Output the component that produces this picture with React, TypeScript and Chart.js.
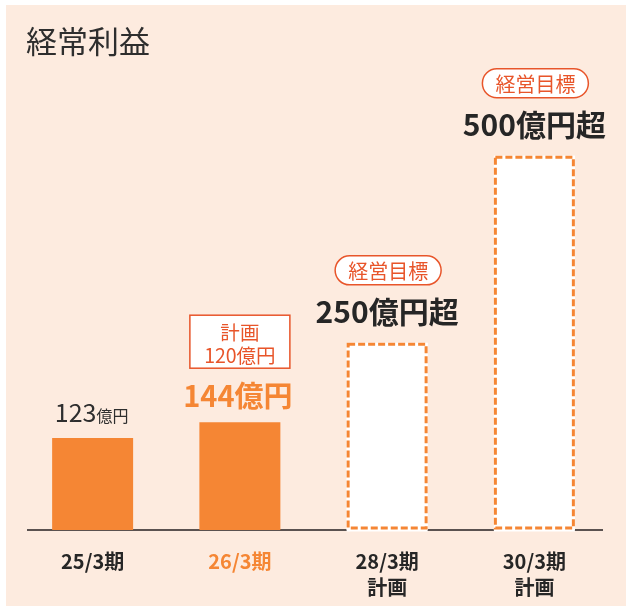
import React, { useEffect, useRef } from 'react';
import { Chart, registerables } from 'chart.js';

Chart.register(...registerables);

// ---- data ----
const categories: string[][] = [['25/3期'], ['26/3期'], ['28/3期', '計画'], ['30/3期', '計画']];
const profits: number[] = [123, 144, 250, 500];
const isPlan: boolean[] = [false, false, true, true];
const valueNumbers: string[] = ['123', '144', '250', '500'];
const valueSuffixes: string[] = ['億円', '億円', '億円超', '億円超'];
const planNote: string[] = ['計画', '120億円'];
const targetBadge = '経営目標';
const chartTitle = '経常利益';
const yMax = 700;

// ---- styles ----
const FONT = "'Noto Sans CJK JP', 'Noto Sans', sans-serif";
const ORANGE = '#F58634';
const RED = '#E8552A';
const DARK = '#262626';
const PEACH = '#FDEBDF';

const annotate = {
  id: 'annotate',
  beforeDatasetsDraw(chart: any) {
    const { ctx, chartArea } = chart;
    ctx.save();
    ctx.strokeStyle = '#231F20';
    ctx.lineWidth = 1.5;
    ctx.beginPath();
    ctx.moveTo(chartArea.left + 8, chartArea.bottom);
    ctx.lineTo(chartArea.right - 5, chartArea.bottom);
    ctx.stroke();

    ctx.fillStyle = '#2E2E2E';
    ctx.font = `31px ${FONT}`;
    ctx.textBaseline = 'middle';
    ctx.textAlign = 'left';
    ctx.fillText(chartTitle, 26, 41);
    ctx.restore();
  },
  afterDatasetsDraw(chart: any) {
    const { ctx } = chart;
    const meta = chart.getDatasetMeta(0);
    meta.data.forEach((bar: any, i: number) => {
      const { x, y, base, width } = bar.getProps(['x', 'y', 'base', 'width'], true);
      const left = x - width / 2;
      ctx.save();
      if (isPlan[i]) {
        ctx.fillStyle = '#FFFFFF';
        ctx.fillRect(left, y, width, base - y + 1.5);
        ctx.strokeStyle = ORANGE;
        ctx.lineWidth = 3;
        ctx.setLineDash([7, 3]);
        ctx.strokeRect(left + 1.5, y + 1.5, width - 3, base - 2 - (y + 1.5));
        ctx.setLineDash([]);

        // badge pill
        const pw = 106, ph = 29;
        const px = x + 1 - pw / 2, py = y - 87;
        ctx.beginPath();
        ctx.roundRect(px, py, pw, ph, ph / 2);
        ctx.fillStyle = '#FFFFFF';
        ctx.fill();
        ctx.lineWidth = 1.5;
        ctx.strokeStyle = RED;
        ctx.stroke();
        ctx.fillStyle = RED;
        ctx.font = `20px ${FONT}`;
        ctx.textAlign = 'center';
        ctx.textBaseline = 'middle';
        ctx.fillText(targetBadge, x + 1, py + ph / 2 + 1);

        // big value
        ctx.fillStyle = DARK;
        ctx.font = `bold 30px ${FONT}`;
        ctx.textBaseline = 'alphabetic';
        ctx.fillText(valueNumbers[i] + valueSuffixes[i], x, y - 20);
      } else if (i === 0) {
        ctx.fillStyle = '#2E2E2E';
        ctx.textBaseline = 'alphabetic';
        ctx.textAlign = 'left';
        ctx.font = `25px ${FONT}`;
        const w1 = ctx.measureText(valueNumbers[i]).width;
        ctx.font = `16px ${FONT}`;
        const w2 = ctx.measureText(valueSuffixes[i]).width;
        const sx = x - (w1 + w2) / 2 - 1;
        ctx.font = `25px ${FONT}`;
        ctx.fillText(valueNumbers[i], sx, y - 16);
        ctx.font = `16px ${FONT}`;
        ctx.fillText(valueSuffixes[i], sx + w1, y - 16);
      } else {
        // plan box
        const bw = 100, bh = 53;
        const bx = x - bw / 2, by = y - 107;
        ctx.fillStyle = '#FFFFFF';
        ctx.fillRect(bx, by, bw, bh);
        ctx.strokeStyle = RED;
        ctx.lineWidth = 1.5;
        ctx.strokeRect(bx, by, bw, bh);
        ctx.fillStyle = RED;
        ctx.font = `19.5px ${FONT}`;
        ctx.textAlign = 'center';
        ctx.textBaseline = 'middle';
        ctx.fillText(planNote[0], x, y - 90);
        ctx.fillText(planNote[1], x, y - 67);

        ctx.fillStyle = ORANGE;
        ctx.font = `bold 29px ${FONT}`;
        ctx.textBaseline = 'alphabetic';
        ctx.fillText(valueNumbers[i] + valueSuffixes[i], x - 2, y - 15);
      }
      ctx.restore();
    });
  },
};

export default function App() {
  const ref = useRef<HTMLCanvasElement>(null);
  useEffect(() => {
    if (!ref.current) return;
    const chart = new Chart(ref.current, {
      type: 'bar',
      data: {
        labels: categories,
        datasets: [
          {
            data: profits,
            backgroundColor: isPlan.map((p) => (p ? '#FFFFFF' : ORANGE)),
            borderWidth: 0,
            barPercentage: 0.55,
            categoryPercentage: 1,
          },
        ],
      },
      options: {
        responsive: false,
        animation: false,
        devicePixelRatio: 1,
        layout: { padding: { left: 19, right: 18, top: 6, bottom: 0 } },
        plugins: { legend: { display: false }, tooltip: { enabled: false } },
        scales: {
          y: { display: false, min: 0, max: yMax },
          x: {
            grid: { display: false },
            border: { display: false },
            ticks: {
              color: (c: any) => (c.index === 1 ? ORANGE : DARK),
              font: { family: FONT, size: 20, weight: 'bold', lineHeight: 1.3 },
              padding: 10,
              maxRotation: 0,
              autoSkip: false,
            },
            afterFit: (s: any) => {
              s.height = 76;
            },
          },
        },
      },
      plugins: [annotate],
    } as any);
    return () => chart.destroy();
  }, []);

  return (
    <div style={{ position: 'fixed', left: 0, top: 0, width: 626, height: 606, background: '#FFFFFF', overflow: 'hidden' }}>
      <div style={{ position: 'absolute', left: 6, top: 5, right: 0, bottom: 0, background: PEACH }} />
      <canvas ref={ref} width={626} height={606} style={{ position: 'absolute', left: 0, top: 0, width: 626, height: 606 }} />
    </div>
  );
}
